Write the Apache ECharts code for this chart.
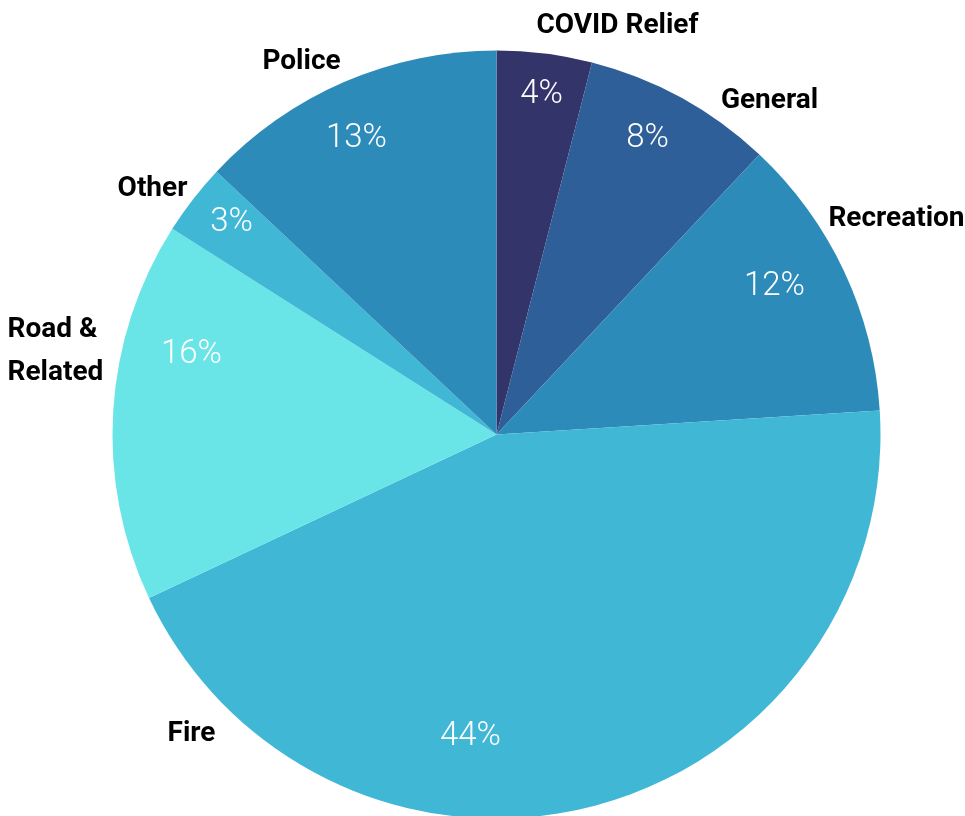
<!DOCTYPE html>
<html>
<head>
<meta charset="utf-8">
<script src="https://cdn.jsdelivr.net/npm/echarts@6/dist/echarts.min.js"></script>
<style>html,body{margin:0;padding:0;background:#fff;}#main{width:965px;height:816px;}</style>
</head>
<body>
<div id="main"></div>
<script>
// Data
const categories = ['COVID Relief', 'General', 'Recreation', 'Fire', 'Road &\nRelated', 'Other', 'Police'];
const shares = [4, 8, 12, 44, 16, 3, 13];
const colors = ['#33346a', '#2e5f98', '#2d8bba', '#41b7d6', '#69e5e8', '#41b7d6', '#2d8bba'];

// Label placement (offsets in px from pie centre)
const nameOffsets = [[121, -409], [273, -334], [400, -216], [-305, 299], [-489, -83], [-344, -246], [-195, -373]];
const nameAlign = ['center', 'center', 'center', 'center', 'left', 'center', 'center'];
const pctOffsets = [[45, -340], [151, -296], [278, -148], [-26, 302], [-305, -80], [-265, -212], [-140, -296]];

const CX = 0.5145, CY = 0.5325, R = 384;

const chart = echarts.init(document.getElementById('main'), null, {renderer: 'canvas'});
const data = categories.map((c, i) => ({name: c, value: shares[i], itemStyle: {color: colors[i]}}));
const dataOverlay = categories.map((c, i) => ({name: c, value: shares[i]}));

function layoutFrom(offsets, aligns) {
  return function (p) {
    const cx = chart.getWidth() * CX, cy = chart.getHeight() * CY;
    const o = offsets[p.dataIndex];
    const al = aligns ? aligns[p.dataIndex] : 'center';
    return {x: cx + o[0], y: cy + o[1], align: al, verticalAlign: 'middle', hideOverlap: false, moveOverlap: null};
  };
}

chart.setOption({
  backgroundColor: '#ffffff',
  animation: false,
  series: [
    {
      type: 'pie',
      center: [(CX * 100) + '%', (CY * 100) + '%'],
      radius: R,
      startAngle: 90,
      clockwise: true,
      avoidLabelOverlap: false,
      data: data,
      label: {
        show: true,
        position: 'inside',
        formatter: p => p.value + '%',
        color: '#ffffff',
        fontFamily: 'Roboto',
        fontWeight: 300,
        fontSize: 33
      },
      labelLine: {show: false},
      labelLayout: layoutFrom(pctOffsets, null),
      emphasis: {disabled: true}
    },
    {
      type: 'pie',
      center: [(CX * 100) + '%', (CY * 100) + '%'],
      radius: R,
      startAngle: 90,
      clockwise: true,
      avoidLabelOverlap: false,
      silent: true,
      z: 3,
      data: dataOverlay,
      itemStyle: {color: 'rgba(0,0,0,0)'},
      label: {
        show: true,
        position: 'inside',
        formatter: p => p.name,
        color: '#000000',
        fontFamily: 'Roboto',
        fontWeight: 'bold',
        fontSize: 28,
        lineHeight: 43
      },
      labelLine: {show: false},
      labelLayout: layoutFrom(nameOffsets, nameAlign),
      emphasis: {disabled: true}
    }
  ]
});
</script>
</body>
</html>
